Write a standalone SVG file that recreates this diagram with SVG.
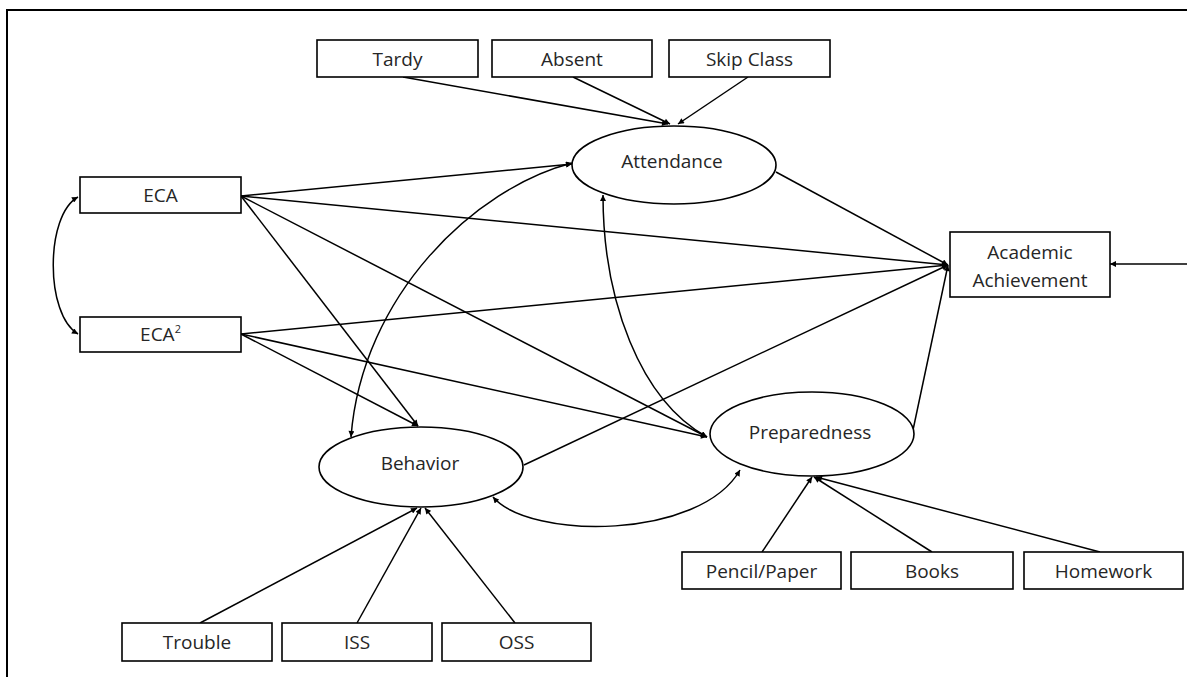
<svg xmlns="http://www.w3.org/2000/svg" width="1187" height="677" viewBox="0 0 1187 677">
<defs>
<marker id="ah" viewBox="0 0 10 10" refX="10" refY="5" markerWidth="7" markerHeight="6" markerUnits="userSpaceOnUse" orient="auto-start-reverse">
<path d="M0,0 L10,5 L0,10 z" fill="#000"/>
</marker>
<style>
.box{fill:#fff;stroke:#000;stroke-width:1.6}
.ell{fill:#fff;stroke:#000;stroke-width:1.6}
.lbl{font-family:"Open Sans","DejaVu Sans",sans-serif;font-size:19px;fill:#262626;text-anchor:middle;dominant-baseline:central}
.c{fill:none;stroke:#000;stroke-width:1.5;marker-end:url(#ah)}
.cv{fill:none;stroke:#000;stroke-width:1.5;marker-end:url(#ah);marker-start:url(#ah)}
.frame{fill:none;stroke:#000;stroke-width:2}
</style>
</defs>
<rect width="1187" height="677" fill="#fff"/>
<path class="frame" d="M7,677 L7,10 L1187,10"/>
<g id="connectors">
<line class="c" x1="403" y1="77" x2="668" y2="124"/>
<line class="c" x1="573" y1="77" x2="670" y2="124"/>
<line class="c" x1="748" y1="77" x2="678" y2="124"/>
<line class="c" x1="241" y1="196" x2="572" y2="164"/>
<line class="c" x1="241" y1="196" x2="948" y2="265"/>
<line class="c" x1="241" y1="196" x2="418" y2="426"/>
<line class="c" x1="241" y1="196" x2="707" y2="437"/>
<line class="c" x1="241" y1="334" x2="948" y2="265"/>
<line class="c" x1="241" y1="334" x2="418" y2="426"/>
<line class="c" x1="241" y1="334" x2="707" y2="437"/>
<line class="c" x1="776" y1="172" x2="948" y2="265"/>
<line class="c" x1="524" y1="465" x2="948" y2="265"/>
<line class="c" x1="913" y1="430" x2="948" y2="265"/>
<line class="c" x1="1187" y1="264" x2="1110" y2="264"/>
<line class="c" x1="200" y1="623" x2="417" y2="508"/>
<line class="c" x1="357" y1="623" x2="421" y2="508"/>
<line class="c" x1="515" y1="623" x2="425" y2="508"/>
<line class="c" x1="762" y1="552" x2="812" y2="477"/>
<line class="c" x1="932" y1="552" x2="814" y2="477"/>
<line class="c" x1="1100" y1="552" x2="816" y2="477"/>
<path class="cv" d="M78,197 C45,215 45,315 78,334"/>
<path class="cv" d="M572,163 C475,188 362,295 351,437"/>
<path class="cv" d="M603,195 C603,300 640,400 707,437"/>
<path class="cv" d="M493,497 C530,540 700,540 740,470"/>
</g>
<g id="tardy"><rect class="box" x="317" y="40" width="161" height="37"/><text class="lbl" x="397.5" y="58.5">Tardy</text></g>
<g id="absent"><rect class="box" x="492" y="40" width="160" height="37"/><text class="lbl" x="572" y="58.5">Absent</text></g>
<g id="skipclass"><rect class="box" x="669" y="40" width="161" height="37"/><text class="lbl" x="749.5" y="58.5">Skip Class</text></g>
<g id="eca"><rect class="box" x="80" y="177" width="161" height="36"/><text class="lbl" x="160.5" y="195">ECA</text></g>
<g id="eca2"><rect class="box" x="80" y="317" width="161" height="35"/><text class="lbl" x="160.5" y="334">ECA<tspan font-size="11" dy="-6">2</tspan></text></g>
<g id="attendance"><ellipse class="ell" cx="674" cy="165" rx="102" ry="39"/><text class="lbl" x="672" y="161">Attendance</text></g>
<g id="academic"><rect class="box" x="950" y="232" width="160" height="65"/><text class="lbl" x="1030" y="252">Academic</text><text class="lbl" x="1030" y="280">Achievement</text></g>
<g id="behavior"><ellipse class="ell" cx="421" cy="467" rx="102" ry="40"/><text class="lbl" x="420" y="463">Behavior</text></g>
<g id="preparedness"><ellipse class="ell" cx="812" cy="434" rx="102" ry="42"/><text class="lbl" x="810" y="432">Preparedness</text></g>
<g id="pencil"><rect class="box" x="682" y="552" width="159" height="37"/><text class="lbl" x="761.5" y="570.5">Pencil/Paper</text></g>
<g id="books"><rect class="box" x="851" y="552" width="162" height="37"/><text class="lbl" x="932" y="570.5">Books</text></g>
<g id="homework"><rect class="box" x="1024" y="552" width="159" height="37"/><text class="lbl" x="1103.5" y="570.5">Homework</text></g>
<g id="trouble"><rect class="box" x="122" y="623" width="150" height="38"/><text class="lbl" x="197" y="642">Trouble</text></g>
<g id="iss"><rect class="box" x="282" y="623" width="150" height="38"/><text class="lbl" x="357" y="642">ISS</text></g>
<g id="oss"><rect class="box" x="442" y="623" width="149" height="38"/><text class="lbl" x="516.5" y="642">OSS</text></g>
</svg>
